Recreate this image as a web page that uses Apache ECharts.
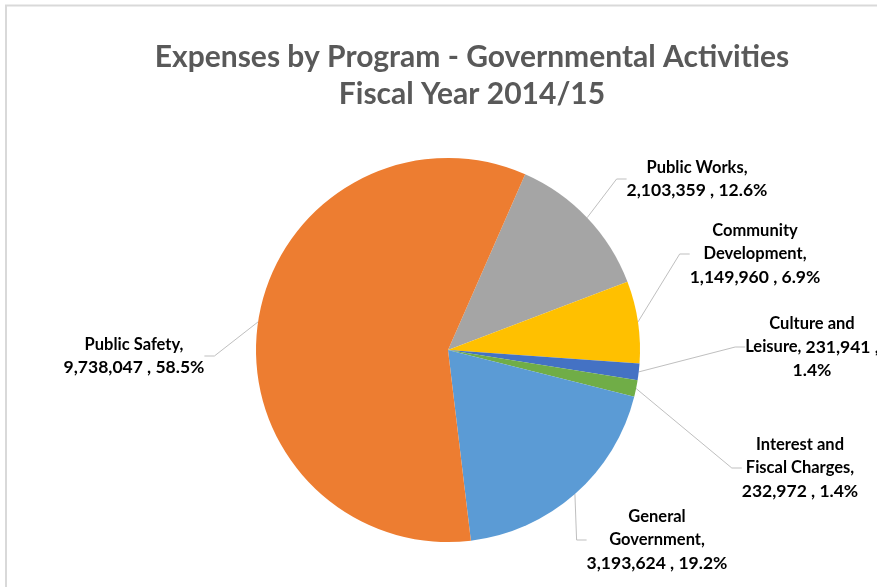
<!DOCTYPE html>
<html>
<head>
<meta charset="utf-8">
<title>Expenses by Program - Governmental Activities</title>
<script src="https://cdn.jsdelivr.net/npm/echarts@6/dist/echarts.min.js"></script>
<style>
  html, body { margin: 0; padding: 0; background: #ffffff; }
  #chart { width: 877px; height: 587px; }
</style>
</head>
<body>
<div id="chart"></div>
<script>
// Expense programs, in drawing order (clockwise)
const programs = [
  'Public Works',
  'Community Development',
  'Culture and Leisure',
  'Interest and Fiscal Charges',
  'General Government',
  'Public Safety'
];
// Expenses in dollars
const expenses = [2103359, 1149960, 231941, 232972, 3193624, 9738047];
// Wrapped program names used in the data labels
const wrappedNames = [
  'Public Works',
  'Community\nDevelopment',
  'Culture and\nLeisure',
  'Interest and\nFiscal Charges',
  'General\nGovernment',
  'Public Safety'
];
const colors = ['#A5A5A5', '#FFC000', '#4472C4', '#70AD47', '#5B9BD5', '#ED7D31'];

// Label anchor (centre of each text block)
const labelSpots = [
  [697, 179],
  [755, 254],
  [812, 347],
  [800, 468],
  [657, 540],
  [134, 356]
];

const fmtNum = v => v.toLocaleString('en-US');

// Wrap each line of a multi-line string in a rich-text style
const styled = (text, style) => text.split('\n').map(t => '{' + style + '|' + t + '}').join('\n');

const chart = echarts.init(document.getElementById('chart'), null, { renderer: 'canvas' });

chart.setOption({
  animation: false,
  backgroundColor: '#ffffff',
  title: {
    text: 'Expenses by Program - Governmental Activities\nFiscal Year 2014/15',
    left: 467,
    top: 34,
    textAlign: 'center',
    textStyle: {
      fontFamily: 'Lato',
      fontWeight: 'bold',
      fontSize: 30,
      lineHeight: 37,
      color: '#595959'
    }
  },
  graphic: [
    { type: 'line', shape: { x1: 5, y1: 5.5, x2: 877, y2: 5.5 }, style: { stroke: '#d9d9d9', lineWidth: 2 } },
    { type: 'line', shape: { x1: 6, y1: 5, x2: 6, y2: 587 }, style: { stroke: '#d9d9d9', lineWidth: 2 } }
  ],
  series: [{
    type: 'pie',
    center: [448, 350],
    radius: 192,
    startAngle: 66.3,
    clockwise: true,
    percentPrecision: 1,
    data: programs.map((p, i) => ({ name: p, value: expenses[i], itemStyle: { color: colors[i] } })),
    itemStyle: { borderWidth: 0 },
    emphasis: { disabled: true },
    label: {
      show: true,
      position: 'outside',
      fontFamily: 'Lato',
      fontWeight: 'bold',
      color: '#000000',
      align: 'center',
      lineHeight: 23,
      rich: {
        n: { fontFamily: 'Lato', fontWeight: 'bold', fontSize: 16.5, lineHeight: 23, color: '#000000' },
        v: { fontFamily: 'Lato', fontWeight: 'bold', fontSize: 17.5, lineHeight: 23, color: '#000000' }
      },
      formatter: p => {
        const i = p.dataIndex;
        const name = wrappedNames[i] + ',';
        const val = fmtNum(p.value) + ' ,';
        const pct = p.percent.toFixed(1) + '%';
        if (programs[i] === 'Culture and Leisure') {
          const parts = name.split('\n');
          return '{n|' + parts[0] + '}\n{n|' + parts[1] + ' }{v|' + val + '}\n{v|' + pct + '}';
        }
        return styled(name, 'n') + '\n{v|' + val + ' ' + pct + '}';
      }
    },
    labelLine: {
      show: true,
      length: 15,
      length2: 10,
      lineStyle: { color: '#bfbfbf', width: 1 }
    },
    labelLayout: params => {
      const s = labelSpots[params.dataIndex];
      return { x: s[0], y: s[1], align: 'center', verticalAlign: 'middle' };
    }
  }]
});
</script>
</body>
</html>
